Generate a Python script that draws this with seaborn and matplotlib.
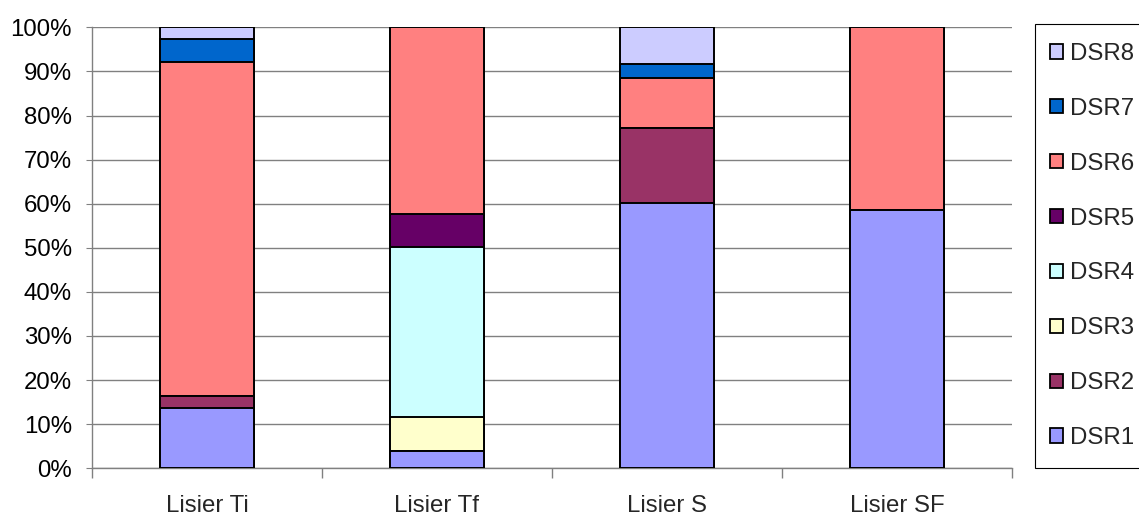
import numpy as np
import pandas as pd
import matplotlib
matplotlib.use("Agg")
import matplotlib.pyplot as plt
import seaborn as sns
from matplotlib.patches import Patch, Rectangle
from matplotlib.ticker import FixedLocator, PercentFormatter

categories = ["Lisier Ti", "Lisier Tf", "Lisier S", "Lisier SF"]
series = ["DSR1", "DSR2", "DSR3", "DSR4", "DSR5", "DSR6", "DSR7", "DSR8"]
DSR1 = [13.6, 4.0, 60.2, 58.5]
DSR2 = [2.8, 0.0, 16.9, 0.0]
DSR3 = [0.0, 7.6, 0.0, 0.0]
DSR4 = [0.0, 38.5, 0.0, 0.0]
DSR5 = [0.0, 7.5, 0.0, 0.0]
DSR6 = [75.7, 42.4, 11.5, 41.5]
DSR7 = [5.2, 0.0, 3.1, 0.0]
DSR8 = [2.7, 0.0, 8.3, 0.0]
colors = ["#9999FF", "#993366", "#FFFFCC", "#CCFFFF", "#660066", "#FF8080", "#0066CC", "#CCCCFF"]

values = np.array([DSR1, DSR2, DSR3, DSR4, DSR5, DSR6, DSR7, DSR8])
# normalise to 100 %
values = values / values.sum(axis=0) * 100
cum = values.cumsum(axis=0)

sns.set_style("white")
plt.rcParams["font.family"] = ["Liberation Sans", "DejaVu Sans"]

FS = 17.3
W, H = 1139, 516

fig = plt.figure(figsize=(W / 100, H / 100), dpi=100)
ax = fig.add_axes([92 / W, 1 - 468.3 / H, (1012 - 92) / W, (468.3 - 27.3) / H])

for i in range(len(series) - 1, -1, -1):
    df = pd.DataFrame({"cat": categories, "val": cum[i]})
    sns.barplot(data=df, x="cat", y="val", order=categories, color=colors[i],
                width=0.41, edgecolor="black", linewidth=1.4, ax=ax,
                saturation=1, zorder=3)

ax.set_ylim(0, 100)
ax.set_xlim(-0.5, 3.5)
ax.yaxis.set_major_locator(FixedLocator(np.arange(0, 101, 10)))
ax.yaxis.set_major_formatter(PercentFormatter(decimals=0))
ax.grid(axis="y", color="#808080", linewidth=1.0, zorder=0)
ax.set_axisbelow(True)
ax.set_xlabel("")
ax.set_ylabel("")
for s in ["top", "right"]:
    ax.spines[s].set_visible(False)
for s in ["left", "bottom"]:
    ax.spines[s].set_color("#808080")
    ax.spines[s].set_linewidth(1.0)
ax.tick_params(axis="y", which="major", left=True, length=4.5, color="#808080",
               labelsize=FS, labelcolor="black", pad=10)
ax.tick_params(axis="x", which="major", length=0, labelsize=FS, pad=19)
ax.xaxis.set_minor_locator(FixedLocator([-0.5, 0.5, 1.5, 2.5, 3.5]))
ax.tick_params(axis="x", which="minor", bottom=True, length=7, color="#808080", width=1)

# legend frame
fig.patches.append(Rectangle((1035 / W, 1 - 468 / H), (1150 - 1035) / W, (468 - 24) / H,
                             transform=fig.transFigure, facecolor="white",
                             edgecolor="black", linewidth=0.8, zorder=0))

handles = [Patch(facecolor=colors[i], edgecolor="black", linewidth=1.3, label=series[i])
           for i in range(len(series) - 1, -1, -1)]
leg = fig.legend(handles=handles, loc="center left",
                 bbox_to_anchor=(1050 / W, 1 - 246 / H),
                 frameon=False, fontsize=FS,
                 handlelength=0.55, handleheight=0.55, handletextpad=0.3,
                 labelspacing=1.37, borderpad=0, borderaxespad=0)

fig.savefig("out.png", dpi=100)
